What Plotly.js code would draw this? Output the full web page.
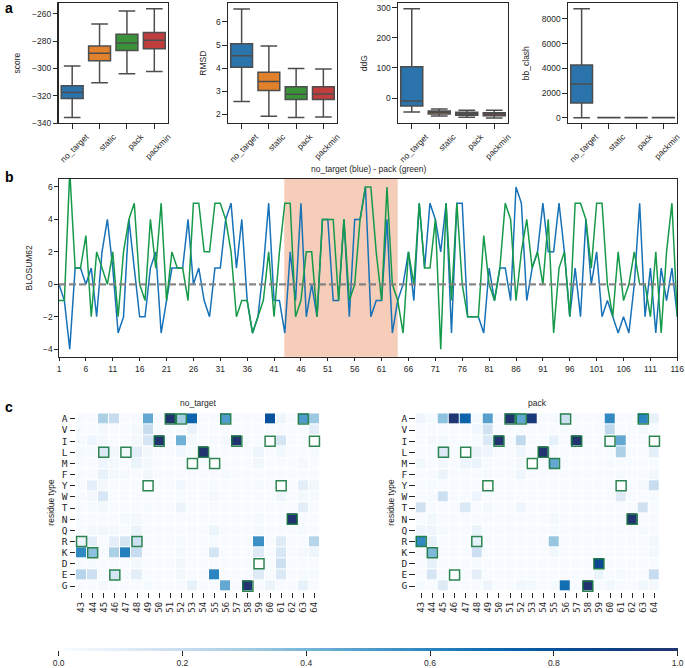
<!DOCTYPE html>
<html><head><meta charset="utf-8">
<script src="https://cdn.plot.ly/plotly-3.0.1.min.js"></script>
<style>html,body{margin:0;padding:0;background:#fff}</style></head>
<body><div id="chart" style="width:685px;height:668px"></div>
<script>
const methods=['no_target','static','pack','packmin'];
const boxColors=['#2a74ab','#e1812c','#3a923a','#c03d3e'];
const scoreLow=[-336,-310.5,-303.9,-302.4], scoreQ1=[-322,-294.4,-287,-285.6], scoreMed=[-317.6,-289,-281.5,-279.5], scoreQ3=[-312.7,-283.7,-275.1,-273.7], scoreHigh=[-298.3,-267.6,-258,-256.3];
const rmsdLow=[2.55,1.91,1.86,1.88], rmsdQ1=[4.04,3.03,2.64,2.64], rmsdMed=[4.54,3.42,2.87,2.88], rmsdQ3=[5.06,3.82,3.19,3.19], rmsdHigh=[6.56,4.96,3.98,3.96];
const ddgLow=[-46.5,-60,-64,-66], ddgQ1=[-26.6,-53,-57.6,-58.7], ddgMed=[-10,-47.6,-52,-53], ddgQ3=[104,-43,-47.6,-48.7], ddgHigh=[296.8,-36.5,-41,-41];
const clashLow=[0,0,0,0], clashQ1=[1190,2,2,2], clashMed=[2730,4,4,4], clashQ3=[4270,6,6,6], clashHigh=[8838,10,10,10];

const blosumBlue=[0,-1,-4,1,1,0,1,-2,2,4, 1,-3,-2,4,1,-2,-2,1,2,-3, -1,1,1,1,4,0,1,-1,-2,1, 1,4,5,1,4,-1,-3,-2,1,5,
 -1,-1,-3,2,-1,5,-2,0,-2,4, 4,-1,-1,4,-2,4,4,6,-2,-1, -1,4,-3,-1,0,2,-1,5,1,5, 4,2,5,-3,5,5,-2,-2,-2,-3,
 1,-1,1,1,-1,6,5,-1,1,2, 5,2,2,5,2,-2,1,-2,4,0, 2,-2,-1,-2,-3,-2,-3,0,5,-2, 1,-3,1,-1,1,-2];
const blosumGreen=[-1,-1,7,1,1,3,-2,2,1,0, 2,-2,2,4,5,0,-1,4,1,5, -1,2,1,1,-1,5,5,2,2,5, 5,4,2,-2,-1,-1,-3,-2,-1,2,
 -2,2,5,5,-2,-1,2,2,-2,4, 4,4,-1,4,-1,0,4,6,6,2, -1,6,0,-1,-3,2,0,5,1,1, 4,-4,5,-1,5,0,-2,-2,-2,3,
 0,-1,1,5,4,-1,2,4,1,2, 0,4,-3,1,2,-2,5,5,4,1, 5,5,0,-2,2,-1,0,2,0,0, -2,2,-3,2,5,-2];
const positions=blosumBlue.map((_,i)=>i+1);
const zeroLine=positions.map(()=>0);
const posTicks=[1,6,11,16,21,26,31,36,41,46,51,56,61,66,71,76,81,86,91,96,101,106,111,116];
const regionStart=42.9, regionEnd=64;

const residues=['A','V','I','L','M','F','Y','W','T','N','Q','R','K','D','E','G'];
const sites=['43','44','45','46','47','48','49','50','51','52','53','54','55','56','57','58','59','60','61','62','63','64'];
const nativeResidue=['R','K','L','E','L','R','Y','I','A','A','M','L','M','A','I','G','D','I','Y','N','A','I'];
const noTargetFreq=[
[.01,.01,.28,.20,.01,.01,.45,.01,1,.30,.72,.01,.01,.50,.01,.01,.01,.80,.05,.01,.50,.32],
[.01,.01,.03,.01,.01,.03,.20,.01,.01,.01,.07,.01,.01,.01,.01,.01,.01,.01,.01,.01,.01,.10],
[.02,.05,.03,.01,.01,.03,.15,1,.01,.42,.03,.01,.02,.03,1,.01,.01,0,.15,.01,.01,0],
[.02,.02,.13,.04,.03,.10,.03,.01,.01,.04,.01,1,.01,.01,.01,.01,.05,.01,.04,.01,.01,.02],
[.01,.01,.05,.03,.01,.06,.03,.01,.01,.01,0,.01,0,.01,.01,.01,.04,.01,.01,.01,.03,.01],
[.01,.01,.08,.03,.02,.01,.04,.01,.01,.01,.01,.01,.01,.02,.01,.01,.01,.01,.01,.01,.01,.01],
[.01,.10,.03,.01,.01,.01,0,.01,.01,.04,.01,.01,.02,.01,.01,.01,.02,.01,0,.01,.10,.04],
[.01,.03,.14,.01,.01,.01,.01,.01,.01,.01,.01,.01,.03,.01,.01,.01,.01,.01,.05,.01,.03,.02],
[.01,.02,.03,.01,.01,.01,.02,.01,.01,.06,.01,.01,.01,.01,.01,.01,.01,.01,.01,.01,.10,.01],
[.01,.01,.01,.01,.02,.03,.01,.01,.01,.01,.01,.01,.01,.01,.01,.01,.02,.01,.01,1,.01,.01],
[.01,.03,.04,.03,.01,.06,.01,.01,.01,.01,.01,.01,.06,.01,.01,.01,.03,.01,.01,.01,.02,.01],
[.06,.10,.01,.10,.15,.18,.01,.01,.01,.02,.01,.01,.02,.01,.01,.01,.55,.01,.12,.01,.01,.25],
[.58,.35,.01,.28,.62,.20,.01,.01,.01,.02,.01,.01,.15,.01,.01,.01,.12,.01,.14,.01,.03,.05],
[.01,.02,.01,.01,.01,.03,.01,.01,.01,.03,.01,.01,.01,.01,.01,.01,0,.01,.18,.01,.01,.01],
[.25,.18,.01,.15,.01,.10,.01,.01,.01,.03,.01,.01,.60,.01,.01,.01,.12,.01,.13,.01,.02,.02],
[.01,.01,.03,.01,.01,.01,.02,.01,.01,.01,.08,.01,.01,.45,.01,1,.01,.06,.01,.01,.08,.01]];
const packFreq=[
[.05,.02,.35,.98,.72,.02,.48,.01,1,.45,.95,.01,.02,.18,.01,.01,.01,.58,.01,.01,.60,.08],
[.01,.01,.01,.01,.01,.04,.17,.01,.01,.01,.01,.01,.01,.01,.01,.01,.01,.23,.01,.01,.03,.01],
[.01,.03,.03,.01,.01,.01,.13,1,.01,.22,.01,.01,.08,.01,1,.01,.01,.02,.45,.01,.01,0],
[.01,.01,.12,.01,0,.07,.05,.01,.01,.05,.01,1,.01,.01,.01,.01,.01,.01,.28,.01,.01,.09],
[.04,.01,.04,.01,.05,.06,.02,.01,.01,.03,0,.01,.45,.01,.01,.01,.01,.02,.01,.01,.01,.01],
[.01,.01,.06,.01,.01,.01,.02,.01,.01,.05,.01,.01,.01,.01,.01,.01,.01,.01,.02,.01,.01,.04],
[.01,.02,.01,.01,.01,.01,0,.01,.01,.01,.01,.01,.01,.01,.01,.01,.01,.01,0,.01,.03,.20],
[.01,.02,.18,.01,.01,.05,.01,.01,.01,.01,.01,.01,.01,.01,.01,.01,.01,.01,.12,.01,.01,.02],
[.17,.01,.01,.01,.13,.01,.03,.01,.01,.05,.01,.01,.01,.01,.01,.01,.01,.01,.01,.01,.17,.01],
[.01,.04,.01,.01,.01,.01,.01,.01,.01,.01,.01,.01,.03,.01,.01,.01,.01,.01,.01,1,.01,.01],
[.05,.05,.02,.01,.01,.06,.01,.01,.01,.01,.01,.01,.02,.01,.01,.01,.01,.01,.01,.01,.02,.01],
[.58,.08,.01,.01,.01,.08,.01,.01,.01,.01,.01,.01,.33,.01,.01,.01,.01,.01,.01,.01,.01,.04],
[.01,.38,.01,.01,.01,.18,.01,.01,.01,.01,.01,.01,.04,.01,.01,.01,.01,.01,.01,.01,.01,.03],
[.01,.08,.01,.01,.01,.02,.01,.01,.01,.01,.01,.01,.01,.01,.01,.01,.85,.01,.01,.01,.01,.01],
[.01,.15,.01,0,.01,.10,.01,.01,.01,.01,.01,.01,.01,.01,.01,.01,.06,.01,.02,.01,.01,.20],
[.02,.01,.12,.01,.01,.01,.05,.01,.01,.04,.03,.01,.02,.68,.01,1,.01,.04,.01,.01,.04,.03]];
const colorStops=[[0,'#ffffff'],[0.01,'#f7fbff'],[0.1,'#e3eef8'],[0.2,'#c8dcf0'],[0.3,'#a5cde3'],[0.4,'#77b5d9'],[0.5,'#4f9bcb'],[0.6,'#2a85c0'],[0.7,'#0d6ab0'],[0.8,'#07519c'],[0.9,'#0f3f85'],[1,'#22346f']];

const W=685,H=668, SANS='"Liberation Sans", Arial, sans-serif', MONO='"DejaVu Sans Mono", monospace', INK='#262626';
const dx=(a,b)=>[a/W,b/W], dy=(t,b)=>[1-b/H,1-t/H];
const data=[], layout={width:W,height:H,autosize:false,margin:{l:0,r:0,t:0,b:0,pad:0,autoexpand:false},paper_bgcolor:'#fff',plot_bgcolor:'#fff',
  showlegend:false,font:{family:SANS,size:8.5,color:INK},boxmode:'overlay',annotations:[],shapes:[]};

const boxPanels=[
 {t:'score',low:scoreLow,q1:scoreQ1,med:scoreMed,q3:scoreQ3,high:scoreHigh,x:[58.5,168],r:[-340,-252.4],ticks:[-340,-320,-300,-280,-260],st:10},
 {t:'RMSD',low:rmsdLow,q1:rmsdQ1,med:rmsdMed,q3:rmsdQ3,high:rmsdHigh,x:[228,337],r:[1.62,6.81],ticks:[2,3,4,5,6],st:8},
 {t:'ddG',low:ddgLow,q1:ddgQ1,med:ddgMed,q3:ddgQ3,high:ddgHigh,x:[398,508],r:[-83,314.6],ticks:[0,100,200,300],st:7},
 {t:'bb_clash',low:clashLow,q1:clashQ1,med:clashMed,q3:clashQ3,high:clashHigh,x:[568,677],r:[-430,9272],ticks:[0,2000,4000,6000,8000],st:10}];
const tickCommon={ticks:'outside',ticklen:4.5,tickwidth:1,tickcolor:'#262626',showgrid:false,zeroline:false,
  showline:true,linecolor:'#262626',linewidth:1.1,mirror:true,tickfont:{family:SANS,size:8.5,color:INK}};
boxPanels.forEach((p,k)=>{
  const n=k+1, s=n===1?'':String(n);
  methods.forEach((m,i)=>data.push({type:'box',name:m,x:[m],q1:[p.q1[i]],median:[p.med[i]],q3:[p.q3[i]],lowerfence:[p.low[i]],upperfence:[p.high[i]],
    xaxis:'x'+s,yaxis:'y'+s,width:0.8,whiskerwidth:0.76,fillcolor:boxColors[i],line:{color:'#4d4d4d',width:1.5},hoverinfo:'skip',boxpoints:false}));
  layout['xaxis'+s]=Object.assign({},tickCommon,{domain:dx(...p.x),anchor:'y'+s,type:'category',categoryorder:'array',categoryarray:methods,range:[-0.5,3.5],tickangle:-45,ticklabelshift:14});
  layout['yaxis'+s]=Object.assign({},tickCommon,{domain:dy(3.3,123),anchor:'x'+s,range:p.r,tickvals:p.ticks,title:{text:p.t,font:{family:SANS,size:8.5,color:INK},standoff:p.st}});
});

// panel b
data.push({type:'scatter',mode:'lines',x:positions,y:blosumBlue,xaxis:'x5',yaxis:'y5',line:{color:'#1772b8',width:1.5},hoverinfo:'skip'});
data.push({type:'scatter',mode:'lines',x:positions,y:blosumGreen,xaxis:'x5',yaxis:'y5',line:{color:'#169a4a',width:1.5},hoverinfo:'skip'});
data.push({type:'scatter',mode:'lines',x:positions,y:zeroLine,xaxis:'x5',yaxis:'y5',line:{color:'rgba(128,128,128,0.95)',width:2.3,dash:'7px,3px'},hoverinfo:'skip'});
layout.xaxis5=Object.assign({},tickCommon,{domain:dx(59,677.3),anchor:'y5',range:[1,116],tickvals:posTicks,ticklen:3.5});
layout.yaxis5=Object.assign({},tickCommon,{domain:dy(179,356.7),anchor:'x5',range:[-4.46,6.49],tickvals:[-4,-2,0,2,4,6],ticklen:3.5,title:{text:'BLOSUM62',font:{family:SANS,size:8.5,color:INK},standoff:9}});
layout.shapes.push({type:'rect',layer:'below',xref:'x5',yref:'paper',x0:regionStart,x1:regionEnd,y0:1-356.7/H,y1:1-179/H,fillcolor:'#f5cdb8',line:{width:0}});
layout.annotations.push({xref:'paper',yref:'paper',x:368/W,y:1-169.5/H,text:'no_target (blue) - pack (green)',showarrow:false,xanchor:'center',yanchor:'middle',font:{family:SANS,size:8.5,color:INK}});

// panel c
const heat=[{z:noTargetFreq,t:'no_target',x:[76,320],n:6,cb:true},{z:packFreq,t:'pack',x:[415.7,660],n:7,cb:false}];
heat.forEach(h=>{
  const s=String(h.n);
  const tr={type:'heatmap',x:sites,y:residues,z:h.z,xaxis:'x'+s,yaxis:'y'+s,zmin:0,zmax:1,colorscale:colorStops,xgap:1,ygap:1,hoverinfo:'skip',showscale:h.cb};
  if(h.cb) tr.colorbar={orientation:'h',xref:'container',yref:'container',x:58.6/W,xanchor:'left',y:1-647.5/H,yanchor:'top',lenmode:'pixels',len:619,thicknessmode:'pixels',thickness:3,
     outlinewidth:0,xpad:0,ypad:0,ticks:'outside',ticklen:5,tickwidth:1,tickcolor:'#262626',tickvals:[0,.2,.4,.6,.8,1],ticktext:['0.0','0.2','0.4','0.6','0.8','1.0'],tickfont:{family:SANS,size:8.5,color:INK}};
  data.push(tr);
  data.push({type:'scatter',mode:'markers',x:sites,y:nativeResidue,xaxis:'x'+s,yaxis:'y'+s,cliponaxis:false,hoverinfo:'skip',
     marker:{symbol:'square-open',size:10,color:'rgba(22,120,62,0.9)',line:{width:1.5}}});
  layout['xaxis'+s]={domain:dx(...h.x),anchor:'y'+s,type:'category',categoryorder:'array',categoryarray:sites,tickmode:'array',tickvals:sites,range:[-0.5,21.5],tickangle:-90,ticks:'outside',ticklen:5.5,tickwidth:1,tickcolor:'#262626',
     showgrid:false,zeroline:false,showline:false,tickfont:{family:MONO,size:9,color:INK}};
  layout['yaxis'+s]={domain:dy(413.3,591.7),anchor:'x'+s,type:'category',categoryorder:'array',categoryarray:residues,tickmode:'array',tickvals:residues,range:[15.5,-0.5],ticks:'outside',ticklen:5.5,tickwidth:1,tickcolor:'#262626',
     showgrid:false,zeroline:false,showline:false,tickfont:{family:MONO,size:9.5,color:INK},title:{text:'residue type',font:{family:SANS,size:8.5,color:INK},standoff:5}};
  layout.annotations.push({xref:'paper',yref:'paper',x:(h.x[0]+h.x[1])/2/W,y:1-403/H,text:h.t,showarrow:false,xanchor:'center',yanchor:'middle',font:{family:SANS,size:8.5,color:INK}});
});
[['a',6,8],['b',6,177],['c',6,407]].forEach(l=>layout.annotations.push({xref:'paper',yref:'paper',x:l[1]/W-0.005,y:1-l[2]/H,text:'<b>'+l[0]+'</b>',showarrow:false,xanchor:'left',yanchor:'middle',font:{family:SANS,size:14,color:'#000'}}));
Plotly.newPlot('chart',data,layout,{displayModeBar:false,staticPlot:true});
</script></body></html>
